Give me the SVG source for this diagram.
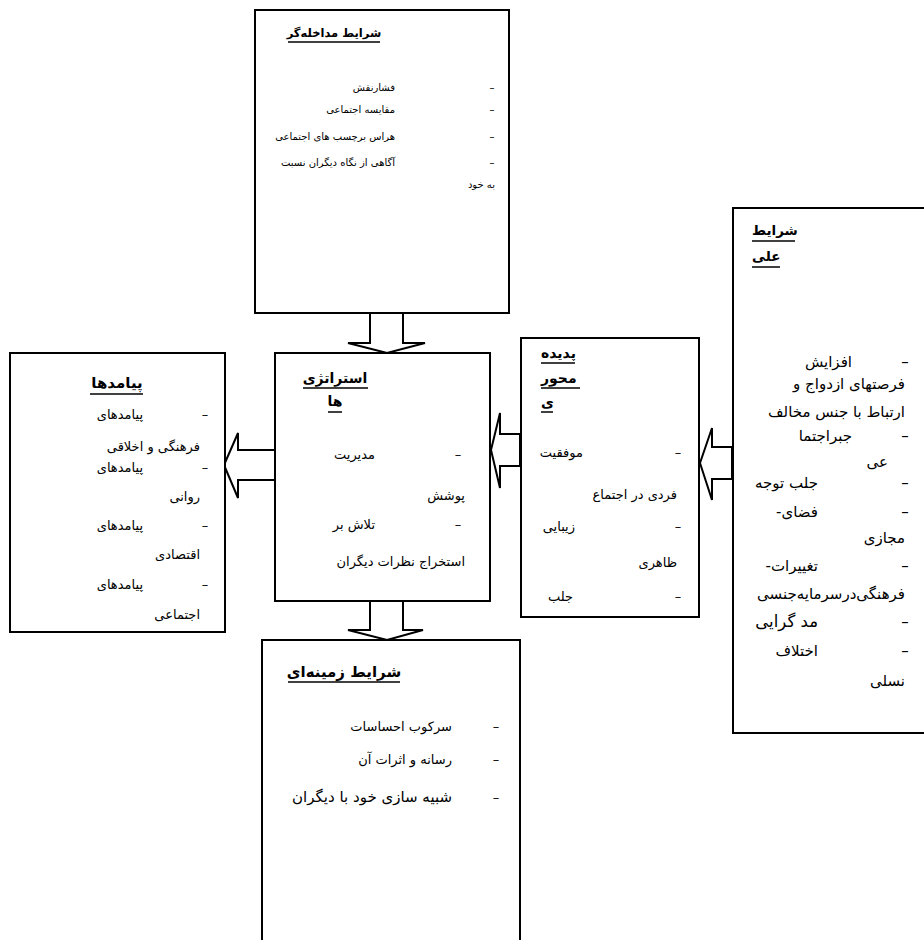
<svg xmlns="http://www.w3.org/2000/svg" width="924" height="940" viewBox="0 0 924 940">
<style>
.box{fill:#fff;stroke:#000;stroke-width:2}
.arr{fill:#fff;stroke:#000;stroke-width:2;stroke-linejoin:miter}
.ul{stroke:#000;stroke-width:1.5}
text{font-family:"DejaVu Sans","Noto Sans",sans-serif;fill:#000}
.t{font-size:13px;text-anchor:end}
.s{font-size:10px;text-anchor:end}
.a{font-size:15px;text-anchor:end}
.c{font-size:13px;text-anchor:end}
.h{font-weight:bold}
.d{text-anchor:middle}
</style>
<rect width="924" height="940" fill="#fff"/>
<g id="connectors">
<polygon class="arr" points="370,313 403,313 403,343 425,343 387,353 348,343 370,343"/>
<polygon class="arr" points="370,601 403,601 403,630 423,630 387,640 348,630 370,630"/>
<polygon class="arr" points="275,450 238,450 238,433 224,465 238,498 238,480 275,480"/>
<polygon class="arr" points="520,434 500,434 500,413 491,450 500,488 500,466 520,466"/>
<polygon class="arr" points="732,447 712,447 712,428 700,463 712,500 712,479 732,479"/>
</g>
<g id="intervening">
<rect class="box" x="255" y="10" width="254" height="303"/>
<text class="h" x="334" y="37" font-size="11.5" text-anchor="middle">شرایط مداخله‌گر</text>
<line class="ul" x1="288" y1="42" x2="380" y2="42"/>
<text class="s d" x="492" y="91">–</text><text class="s" x="395" y="91">فشارنقش</text>
<text class="s d" x="492" y="113">–</text><text class="s" x="395" y="113">مقایسه اجتماعی</text>
<text class="s d" x="492" y="140">–</text><text class="s" x="395" y="140">هراس برچسب های اجتماعی</text>
<text class="s d" x="492" y="166">–</text><text class="s" x="395" y="166">آگاهی از نگاه دیگران نسبت</text>
<text class="s" x="495" y="188">به خود</text>
</g>
<g id="causal">
<rect class="box" x="733" y="208" width="200" height="525"/>
<text class="h" x="752" y="235" font-size="13.5">شرایط</text>
<line class="ul" x1="752" y1="241" x2="795" y2="241"/>
<text class="h" x="752" y="261" font-size="13.5">علی</text>
<line class="ul" x1="752" y1="267" x2="780" y2="267"/>
<text class="a d" x="905" y="367">–</text><text class="a" x="852" y="367">افزایش</text>
<text class="a" x="905" y="389">فرصتهای ازدواج و</text>
<text class="a" x="905" y="417">ارتباط با جنس مخالف</text>
<text class="a d" x="905" y="441">–</text><text class="a" x="852" y="441">جبراجتما</text>
<text class="a" x="888" y="467">عی</text>
<text class="a d" x="905" y="488">–</text><text class="a" x="818" y="488">جلب توجه</text>
<text class="a d" x="905" y="517">–</text><text class="a" x="818" y="517">-فضای</text>
<text class="a" x="905" y="543">مجازی</text>
<text class="a d" x="905" y="571">–</text><text class="a" x="818" y="571">-تغییرات</text>
<text class="a" x="905" y="599">فرهنگی‌درسرمایه‌جنسی</text>
<text class="a d" x="905" y="627">–</text><text class="a" x="818" y="627" style="font-size:16.5px">مد گرایی</text>
<text class="a d" x="905" y="656">–</text><text class="a" x="818" y="656">اختلاف</text>
<text class="a" x="905" y="686">نسلی</text>
</g>
<g id="phenomenon">
<rect class="box" x="521" y="338" width="178" height="279"/>
<text class="h" x="541" y="358" font-size="14">پدیده</text>
<line class="ul" x1="541" y1="363" x2="575" y2="363"/>
<text class="h" x="541" y="383" font-size="14">محور</text>
<line class="ul" x1="541" y1="388" x2="580" y2="388"/>
<text class="h" x="541" y="407" font-size="14">ی</text>
<line class="ul" x1="541" y1="412" x2="553" y2="412"/>
<text class="t d" x="678" y="457">–</text><text class="t" x="583" y="457">موفقیت</text>
<text class="t" x="677" y="499">فردی در اجتماع</text>
<text class="t d" x="678" y="531">–</text><text class="t" x="575" y="531">زیبایی</text>
<text class="t" x="677" y="567">ظاهری</text>
<text class="t d" x="678" y="601">–</text><text class="t" x="573" y="601">جلب</text>
</g>
<g id="strategies">
<rect class="box" x="275" y="353" width="215" height="248"/>
<text class="h" x="335" y="383" font-size="14" text-anchor="middle">استراتژی</text>
<line class="ul" x1="303" y1="388" x2="368" y2="388"/>
<text class="h" x="335" y="406" font-size="14" text-anchor="middle">ها</text>
<line class="ul" x1="328" y1="412" x2="342" y2="412"/>
<text class="t d" x="458" y="459">–</text><text class="t" x="375" y="459">مدیریت</text>
<text class="t" x="465" y="500">پوشش</text>
<text class="t d" x="458" y="529">–</text><text class="t" x="375" y="529">تلاش بر</text>
<text class="t" x="465" y="566">استخراج نظرات دیگران</text>
</g>
<g id="consequences">
<rect class="box" x="10" y="353" width="215" height="279"/>
<text class="h" x="117" y="388" font-size="15" text-anchor="middle">پیامدها</text>
<line class="ul" x1="90" y1="394" x2="143" y2="394"/>
<text class="c d" x="205" y="419">–</text><text class="c" x="143" y="419">پیامدهای</text>
<text class="c" x="200" y="451">فرهنگی و اخلاقی</text>
<text class="c d" x="205" y="472">–</text><text class="c" x="143" y="472">پیامدهای</text>
<text class="c" x="200" y="501">روانی</text>
<text class="c d" x="205" y="530">–</text><text class="c" x="143" y="530">پیامدهای</text>
<text class="c" x="200" y="559">اقتصادی</text>
<text class="c d" x="205" y="589">–</text><text class="c" x="143" y="589">پیامدهای</text>
<text class="c" x="200" y="619">اجتماعی</text>
</g>
<g id="context">
<path class="box" d="M262,945 V640 H520 V945"/>
<text class="h" x="344" y="677" font-size="15" text-anchor="middle">شرایط زمینه‌ای</text>
<line class="ul" x1="288" y1="682" x2="400" y2="682"/>
<text class="t d" x="496" y="731">–</text><text class="t" x="452" y="731">سرکوب احساسات</text>
<text class="t d" x="496" y="764">–</text><text class="t" x="452" y="764">رسانه و اثرات آن</text>
<text class="t d" x="496" y="802">–</text><text class="t" x="452" y="802" style="font-size:15px">شبیه سازی خود با دیگران</text>
</g>
</svg>
